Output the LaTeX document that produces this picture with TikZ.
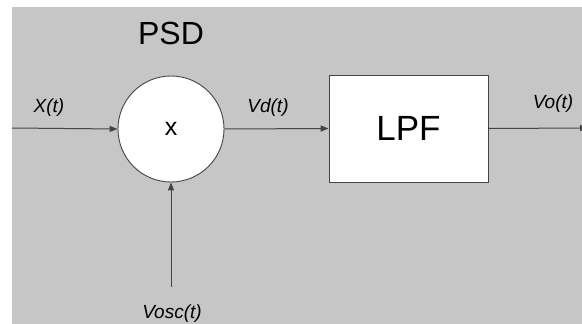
\documentclass[tikz,border=0pt]{standalone}
\usepackage{fontspec}
\setmainfont{Liberation Sans}
\usetikzlibrary{arrows.meta}
\definecolor{bg}{HTML}{C6C6C6}
\definecolor{wire}{HTML}{444444}
\tikzset{
  block/.style={draw=wire,fill=white,line width=0.9pt,minimum width=159pt,minimum height=107pt,inner sep=0pt},
  mixer/.style={circle,draw=wire,fill=white,line width=0.9pt,minimum size=106pt,inner sep=0pt},
  sig/.style={font=\fontsize{19}{19}\selectfont\itshape},
}
\begin{document}
\begin{tikzpicture}[x=1pt,y=-1pt,>={Triangle[length=8pt,width=6pt]}]
	\useasboundingbox (0,0) rectangle (582,324);
	\fill[bg] (12,7) rectangle (582,324);
	\node (psd) at (171,33) {\fontsize{32}{32}\selectfont PSD};
	
	\node[mixer] (M) at (171,129) {\fontsize{25}{25}\selectfont x};
	\node[block] (F) at (408.5,128.5) {\fontsize{35}{35}\selectfont LPF};
	
	\coordinate (in) at (12,128);
	\coordinate (out) at (588,128);
	\coordinate (osc) at (171,287);
	
	\draw [->,wire,line width=1pt] (in)--(M.west);
	\draw [->,wire,line width=1pt] (M.east)--(F.west);
	\draw [->,wire,line width=1pt] (F.east)--(out);
	\draw [->,wire,line width=1pt] (osc)--(M.south);
	
	\node[sig] (x) at (49,108) {X(t)};
	\node[sig] (vd) at (268,108) {Vd(t)};
	\node[sig] (vo) at (553,104) {Vo(t)};
	\node[sig] (vosc) at (172,314) {Vosc(t)};
\end{tikzpicture}
\end{document}
